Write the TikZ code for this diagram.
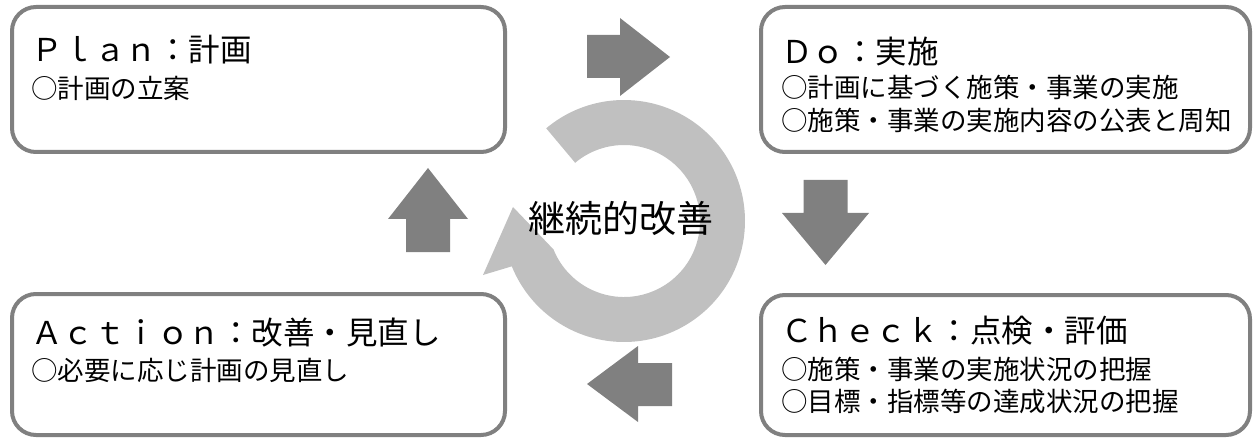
\documentclass[tikz,border=0pt]{standalone}
\usepackage{fontspec}
\newfontfamily\jp{Noto Sans CJK JP}
\usetikzlibrary{calc}
\definecolor{boxc}{HTML}{808080}
\definecolor{ringc}{HTML}{C0C0C0}
\definecolor{arrc}{HTML}{808080}
\begin{document}
\begin{tikzpicture}[x=1pt,y=-1pt,
  pbox/.style={draw=boxc, line width=4pt, rounded corners=24pt, fill=white, inner sep=0pt},
  ttl/.style={anchor=base west, inner sep=0pt, font=\jp\fontsize{31.5}{36}\selectfont},
  bdy/.style={anchor=base west, inner sep=0pt, font=\jp\fontsize{26.5}{30}\selectfont},
  blk/.style={fill=arrc, draw=none},
  ring/.style={fill=ringc, draw=none}]
\useasboundingbox (0,0) rectangle (1254,441);
% boxes
\node[pbox, minimum width=493pt, minimum height=145pt] (plan) at (258.5,79.5) {};
\node[pbox, minimum width=489pt, minimum height=145pt] (do) at (1005.5,79.5) {};
\node[pbox, minimum width=493pt, minimum height=141pt] (act) at (258.5,364.5) {};
\node[pbox, minimum width=489pt, minimum height=140pt] (chk) at (1005.5,365) {};
% texts
\node[ttl] (planT) at (31,62) {Ｐｌａｎ：計画};
\node[bdy] (planB) at (31,98.5) {○計画の立案};
\node[ttl] (doT) at (781,64) {Ｄｏ：実施};
\node[bdy] (doB1) at (781,98) {○計画に基づく施策・事業の実施};
\node[bdy] (doB2) at (781,131) {○施策・事業の実施内容の公表と周知};
\node[ttl] (actT) at (31,344) {Ａｃｔｉｏｎ：改善・見直し};
\node[bdy] (actB) at (31,380) {○必要に応じ計画の見直し};
\node[ttl] (chkT) at (781,342) {Ｃｈｅｃｋ：点検・評価};
\node[bdy] (chkB1) at (781,379) {○施策・事業の実施状況の把握};
\node[bdy] (chkB2) at (781,411) {○目標・指標等の達成状況の把握};
% ring arrow
\coordinate (c) at (624,221);
\fill[ring] ($(c)+(-130:121)$) arc[start angle=-130, end angle=158, radius=121]
  -- (483,275) -- (513,207) -- ($(c)+(158:76)$)
  arc[start angle=158, end angle=-130, radius=76] -- cycle;
\node[inner sep=0pt, font=\jp\fontsize{37}{40}\selectfont] (ctr) at (621,218) {継続的改善};
% block arrows
\fill[blk] (587,35) -- (620,35) -- (620,18) -- (670,57) -- (620,96) -- (620,78) -- (587,78) -- cycle;
\fill[blk] (803.5,180) -- (847.5,180) -- (847.5,213) -- (869,213) -- (825.5,265) -- (782,213) -- (803.5,213) -- cycle;
\fill[blk] (672,363) -- (638,363) -- (638,346) -- (587,384) -- (638,422) -- (638,406) -- (672,406) -- cycle;
\fill[blk] (406,252) -- (450,252) -- (450,219) -- (468,219) -- (428,168) -- (388,219) -- (406,219) -- cycle;
\end{tikzpicture}
\end{document}
